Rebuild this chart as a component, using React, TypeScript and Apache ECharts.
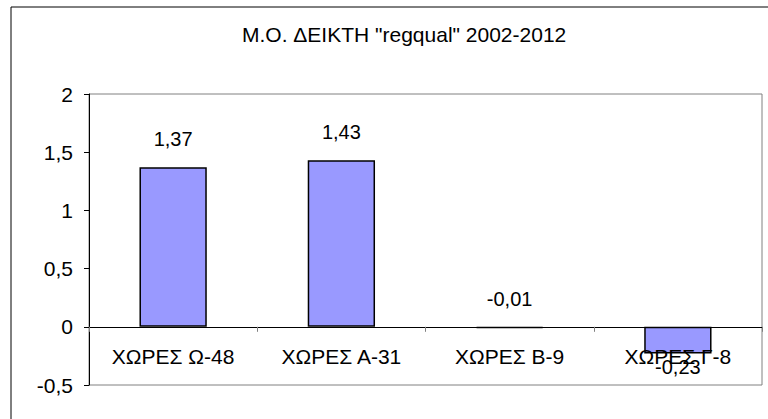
import React, { useEffect, useRef } from "react";
import * as echarts from "echarts";

const titleText = 'M.O. ΔΕΙΚΤΗ "regqual" 2002-2012';
const categories = ["ΧΩΡΕΣ Ω-48", "ΧΩΡΕΣ Α-31", "ΧΩΡΕΣ Β-9", "ΧΩΡΕΣ Γ-8"];
const values = [1.37, 1.43, -0.01, -0.23];
const yMin = -0.5;
const yMax = 2;
const yStep = 0.5;

const FONT = "'Liberation Sans', Arial, sans-serif";
const fmt = (v: number) => String(v).replace(".", ",");

const GRID_TOP = 94;
const GRID_BOTTOM = 34;
const H = 419;
const plotH = H - GRID_TOP - GRID_BOTTOM;
const zeroOffset = -plotH * (0 - yMin) / (yMax - yMin);

export default function App() {
  const ref = useRef<HTMLDivElement>(null);
  useEffect(() => {
    if (!ref.current) return;
    const chart = echarts.init(ref.current, undefined, { renderer: "svg" });
    chart.setOption({
      animation: false,
      backgroundColor: "#ffffff",
      title: {
        text: titleText,
        left: 242,
        top: 24,
        padding: 0,
        textStyle: { fontFamily: FONT, fontSize: 21, fontWeight: "normal", color: "#000" },
      },
      graphic: [
        {
          type: "rect",
          shape: { x: 11, y: 7, width: 790, height: 440 },
          style: { fill: "none", stroke: "#000", lineWidth: 1 },
          silent: true,
          z: -1,
        },
      ],
      grid: {
        left: 89,
        top: GRID_TOP,
        right: 6,
        bottom: GRID_BOTTOM,
        show: true,
        borderColor: "#808080",
        borderWidth: 1,
        backgroundColor: "transparent",
      },
      xAxis: {
        type: "category",
        data: categories,
        z: 3,
        offset: zeroOffset,
        axisLine: { onZero: false, lineStyle: { color: "#000", width: 1 } },
        axisTick: { show: true, alignWithLabel: false, length: 5, lineStyle: { color: "#808080" } },
        axisLabel: { margin: 19, fontFamily: FONT, fontSize: 21, color: "#000", interval: 0 },
      },
      yAxis: {
        type: "value",
        min: yMin,
        max: yMax,
        interval: yStep,
        splitLine: { show: false },
        axisLine: { show: true, lineStyle: { color: "#000", width: 1 } },
        axisTick: { show: true, length: 5, lineStyle: { color: "#000" } },
        axisLabel: {
          margin: 16,
          fontFamily: FONT,
          fontSize: 21,
          color: "#000",
          formatter: (v: number) => fmt(v),
        },
      },
      series: [
        {
          type: "bar",
          barWidth: "40%",
          data: values.map((v) => ({
            value: v,
            label: v < -0.1 ? { position: "bottom", distance: 3 } : { position: "top", distance: 18 },
          })),
          itemStyle: { color: "#9999FF", borderColor: "#000", borderWidth: 1.5 },
          label: {
            show: true,
            fontFamily: FONT,
            fontSize: 20,
            color: "#000",
            formatter: (p: any) => fmt(p.value),
          },
        },
      ],
    });
    return () => chart.dispose();
  }, []);
  return (
    <div
      ref={ref}
      style={{ position: "absolute", left: 0, top: 0, width: 768, height: 419 }}
    />
  );
}
